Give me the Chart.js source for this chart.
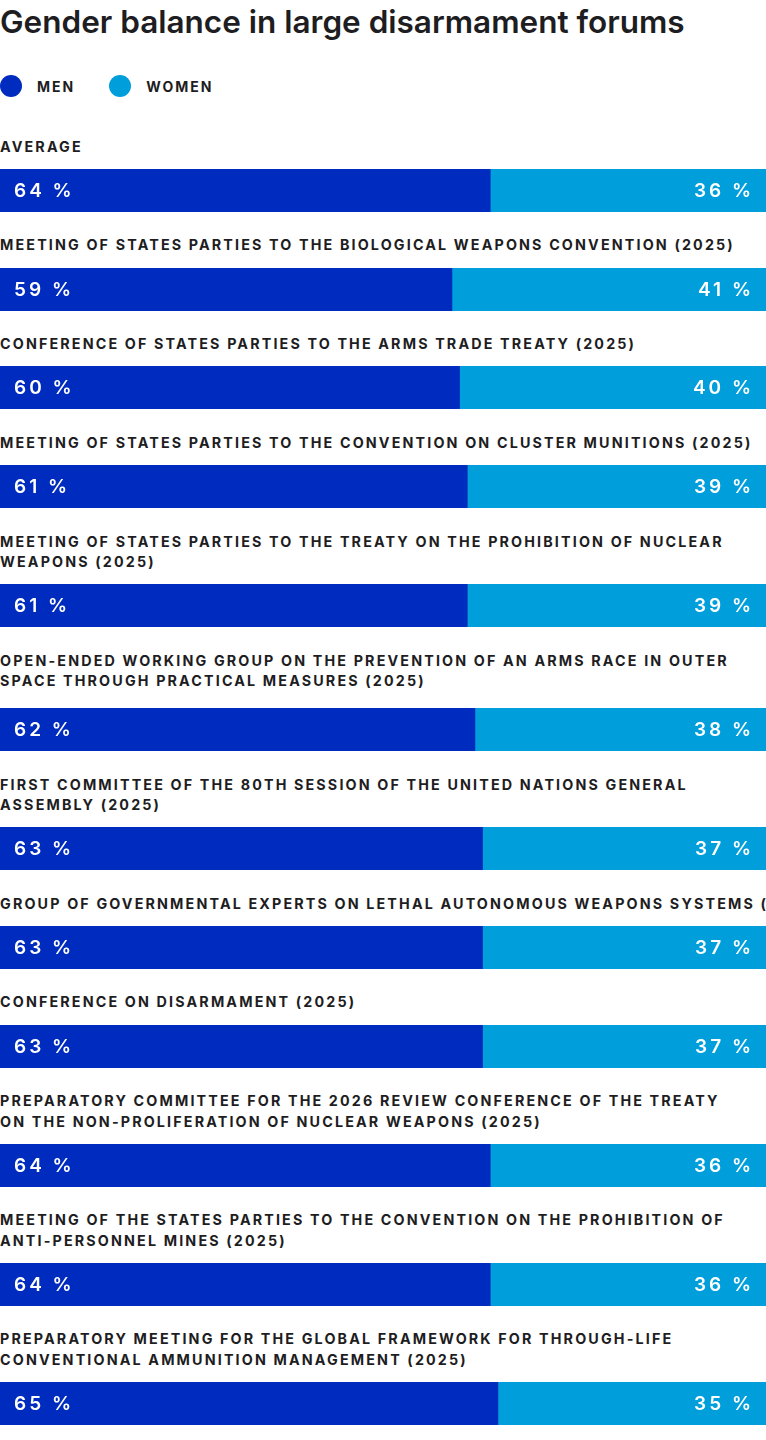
<!DOCTYPE html>
<html><head><meta charset="utf-8">
<script src="https://cdn.jsdelivr.net/npm/chart.js@4.4.1/dist/chart.umd.min.js"></script>
<style>
html,body{margin:0;padding:0;background:#fff;}
body{width:766px;height:1440px;overflow:hidden;position:relative;font-family:Inter,"Noto Sans",sans-serif;color:#1d1d22;}
h1{margin:0;position:absolute;left:0;top:0;font-size:31.5px;line-height:44px;font-weight:600;letter-spacing:0px;white-space:nowrap;}
.legend{position:absolute;top:75px;left:0;height:22px;display:flex;align-items:center;}
.item{display:flex;align-items:center;margin-right:34px;font-size:14px;font-weight:700;letter-spacing:2px;}
.dot{width:22px;height:22px;border-radius:50%;margin-right:15px;}
#rows{position:absolute;left:0;top:136.75px;width:766px;}
.label{font-size:14.3px;font-weight:700;letter-spacing:2.15px;line-height:20.5px;white-space:pre;overflow:hidden;margin-bottom:11.75px;}
.bar{height:43px;position:relative;margin-bottom:23.45px;}
</style>
</head><body>
<h1 id="title"></h1>
<div class="legend" id="legend"></div>
<div id="rows"></div>
<script>
const title = "Gender balance in large disarmament forums";
const seriesNames = ["MEN", "WOMEN"];
const seriesColors = ["#002bbf", "#009fdb"];
const categories = [
  "AVERAGE",
  "MEETING OF STATES PARTIES TO THE BIOLOGICAL WEAPONS CONVENTION (2025)",
  "CONFERENCE OF STATES PARTIES TO THE ARMS TRADE TREATY (2025)",
  "MEETING OF STATES PARTIES TO THE CONVENTION ON CLUSTER MUNITIONS (2025)",
  "MEETING OF STATES PARTIES TO THE TREATY ON THE PROHIBITION OF NUCLEAR\nWEAPONS (2025)",
  "OPEN-ENDED WORKING GROUP ON THE PREVENTION OF AN ARMS RACE IN OUTER\nSPACE THROUGH PRACTICAL MEASURES (2025)",
  "FIRST COMMITTEE OF THE 80TH SESSION OF THE UNITED NATIONS GENERAL\nASSEMBLY (2025)",
  "GROUP OF GOVERNMENTAL EXPERTS ON LETHAL AUTONOMOUS WEAPONS SYSTEMS (2025)",
  "CONFERENCE ON DISARMAMENT (2025)",
  "PREPARATORY COMMITTEE FOR THE 2026 REVIEW CONFERENCE OF THE TREATY\nON THE NON-PROLIFERATION OF NUCLEAR WEAPONS (2025)",
  "MEETING OF THE STATES PARTIES TO THE CONVENTION ON THE PROHIBITION OF\nANTI-PERSONNEL MINES (2025)",
  "PREPARATORY MEETING FOR THE GLOBAL FRAMEWORK FOR THROUGH-LIFE\nCONVENTIONAL AMMUNITION MANAGEMENT (2025)"
];
const menValues   = [64, 59, 60, 61, 61, 62, 63, 63, 63, 64, 64, 65];
const womenValues = [36, 41, 40, 39, 39, 38, 37, 37, 37, 36, 36, 35];

document.getElementById('title').textContent = title;
const legend = document.getElementById('legend');
seriesNames.forEach((n, i) => {
  const it = document.createElement('div'); it.className = 'item';
  const d = document.createElement('span'); d.className = 'dot'; d.style.background = seriesColors[i];
  const t = document.createElement('span'); t.textContent = n;
  it.appendChild(d); it.appendChild(t); legend.appendChild(it);
});

const valueLabels = {
  id: 'valueLabels',
  afterDatasetsDraw(chart) {
    const ctx = chart.ctx;
    ctx.save();
    ctx.font = '600 19px Inter, "Noto Sans", sans-serif';
    ctx.fillStyle = '#ffffff';
    ctx.textBaseline = 'middle';
    const ls = 3;
    if ('letterSpacing' in ctx) ctx.letterSpacing = ls + 'px';
    chart.data.datasets.forEach((ds, di) => {
      chart.getDatasetMeta(di).data.forEach((el, j) => {
        const txt = ds.data[j] + ' %';
        if (di === 0) { ctx.textAlign = 'left'; ctx.fillText(txt, Math.min(el.base, el.x) + 14, el.y + 1); }
        else { ctx.textAlign = 'right'; ctx.fillText(txt, Math.max(el.base, el.x) - 15 + ls, el.y + 1); }
      });
    });
    ctx.restore();
  }
};

const rows = document.getElementById('rows');
categories.forEach((cat, i) => {
  const lab = document.createElement('div'); lab.className = 'label'; lab.textContent = cat;
  if (i === 5) lab.style.marginBottom = '16.4px';
  const wrap = document.createElement('div'); wrap.className = 'bar';
  const cv = document.createElement('canvas'); wrap.appendChild(cv);
  rows.appendChild(lab); rows.appendChild(wrap);
  new Chart(cv, {
    type: 'bar',
    data: {
      labels: [cat],
      datasets: [
        { label: seriesNames[0], data: [menValues[i]], backgroundColor: seriesColors[0] },
        { label: seriesNames[1], data: [womenValues[i]], backgroundColor: seriesColors[1] }
      ]
    },
    options: {
      indexAxis: 'y', responsive: true, maintainAspectRatio: false, animation: false,
      layout: { padding: 0 },
      datasets: { bar: { barPercentage: 1, categoryPercentage: 1, borderWidth: 0 } },
      scales: {
        x: { display: false, stacked: true, min: 0, max: 100 },
        y: { display: false, stacked: true }
      },
      plugins: { legend: { display: false }, tooltip: { enabled: false } }
    },
    plugins: [valueLabels]
  });
});
</script>
</body></html>
